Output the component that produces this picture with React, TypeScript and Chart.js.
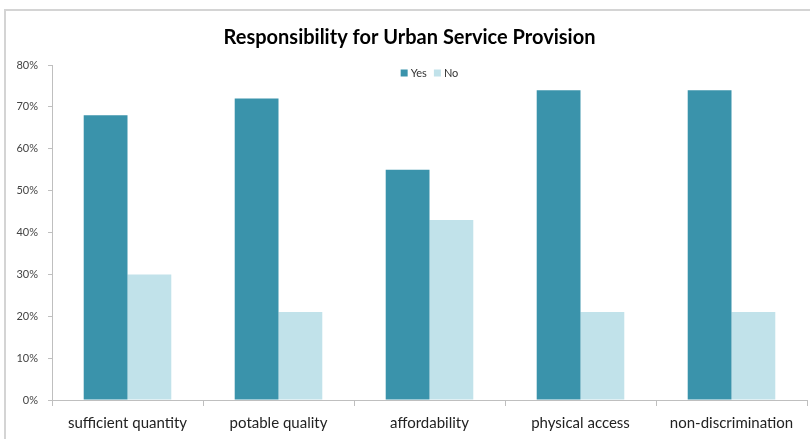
import React, { useEffect, useRef } from "react";
import { Chart, registerables } from "chart.js";

Chart.register(...registerables);

const categories = ["sufficient quantity", "potable quality", "affordability", "physical access", "non-discrimination"];
const yesValues = [68, 72, 55, 74, 74];
const noValues = [30, 21, 43, 21, 21];
const seriesNames = ["Yes", "No"];
const titleText = "Responsibility for Urban Service Provision";

const insideLegend = {
  id: "insideLegend",
  afterDraw(chart: any) {
    const ctx = chart.ctx;
    const area = chart.chartArea;
    ctx.save();
    ctx.font = "11px Lato";
    const box = 7;
    const gapBoxText = 3;
    const gapItems = 7;
    const items = chart.data.datasets.map((d: any) => ({ label: d.label, color: d.backgroundColor }));
    const widths = items.map((it: any) => box + gapBoxText + ctx.measureText(it.label).width);
    const total = widths.reduce((a: number, b: number) => a + b, 0) + gapItems * (items.length - 1);
    let x = (area.left + area.right) / 2 - total / 2;
    const y = area.top + 8;
    ctx.textBaseline = "middle";
    ctx.textAlign = "left";
    items.forEach((it: any, i: number) => {
      ctx.fillStyle = it.color;
      ctx.fillRect(x, y - box / 2, box, box);
      ctx.fillStyle = "#333";
      ctx.fillText(it.label, x + box + gapBoxText, y);
      x += widths[i] + gapItems;
    });
    ctx.restore();
  },
};

export default function App() {
  const ref = useRef<HTMLCanvasElement | null>(null);
  useEffect(() => {
    if (!ref.current) return;
    const chart = new Chart(ref.current, {
      type: "bar",
      data: {
        labels: categories,
        datasets: [
          { label: seriesNames[0], data: yesValues, backgroundColor: "#3A93AB", borderWidth: 0 },
          { label: seriesNames[1], data: noValues, backgroundColor: "#C1E2EA", borderWidth: 0 },
        ],
      },
      options: {
        responsive: false,
        animation: false,
        layout: { padding: { left: 12, right: 3, top: 0, bottom: 7 } },
        datasets: { bar: { categoryPercentage: 0.58, barPercentage: 1 } },
        plugins: {
          title: {
            display: true,
            text: titleText,
            color: "#000",
            font: { family: "Lato", size: 20, weight: "bold" },
            padding: { top: 26, bottom: 15 },
          },
          legend: { display: false },
          tooltip: { enabled: false },
        },
        scales: {
          x: {
            afterFit: (s: any) => { s.height = 32; },
            grid: { display: true, drawOnChartArea: false, drawTicks: true, tickLength: 6, color: "#BFBFBF", offset: true },
            border: { display: true, color: "#BFBFBF", width: 1 },
            ticks: { color: "#222", font: { family: "Lato", size: 15 }, padding: 8, maxRotation: 0 },
          },
          y: {
            min: 0,
            max: 80,
            afterFit: (s: any) => { s.width = 40; },
            grid: { display: true, drawOnChartArea: false, drawTicks: true, tickLength: 4, color: "#BFBFBF" },
            border: { display: true, color: "#BFBFBF", width: 1 },
            ticks: {
              stepSize: 10,
              color: "#444",
              font: { family: "Lato", size: 11 },
              padding: 10,
              callback: (v: any) => v + "%",
            },
          },
        },
      },
      plugins: [insideLegend],
    });
    return () => chart.destroy();
  }, []);
  return (
    <div style={{ position: "fixed", left: 0, top: 0, width: 810, height: 439, background: "#fff", overflow: "hidden" }}>
      <div style={{ position: "absolute", left: 4, top: 9, width: 830, height: 460, border: "2px solid #D4D4D4" }} />
      <canvas ref={ref} width={810} height={439} style={{ position: "absolute", left: 0, top: 0 }} />
    </div>
  );
}
